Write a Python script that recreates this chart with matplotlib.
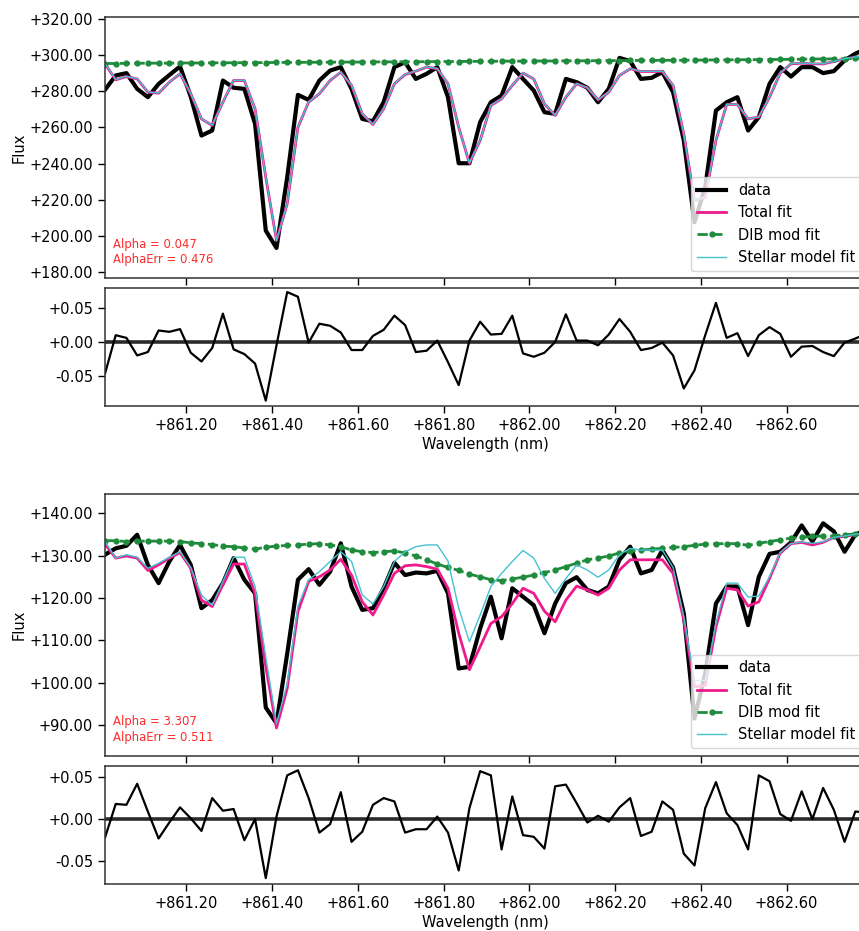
import matplotlib
matplotlib.use("Agg")
import matplotlib.pyplot as plt
from matplotlib.ticker import FormatStrFormatter, MultipleLocator

# Wavelength grid (nm)
wavelength = [
    861.010, 861.035, 861.060, 861.085, 861.110, 861.135, 861.160, 861.185, 861.210, 861.235,
    861.260, 861.285, 861.310, 861.335, 861.360, 861.385, 861.410, 861.435, 861.460, 861.485,
    861.510, 861.535, 861.560, 861.585, 861.610, 861.635, 861.660, 861.685, 861.710, 861.735,
    861.760, 861.785, 861.810, 861.835, 861.860, 861.885, 861.910, 861.935, 861.960, 861.985,
    862.010, 862.035, 862.060, 862.085, 862.110, 862.135, 862.160, 862.185, 862.210, 862.235,
    862.260, 862.285, 862.310, 862.335, 862.360, 862.385, 862.410, 862.435, 862.460, 862.485,
    862.510, 862.535, 862.560, 862.585, 862.610, 862.635, 862.660, 862.685, 862.710, 862.735,
    862.760, 862.785,
]

# ---- Star 1 ----
data1 = [
    280.8, 288.7, 290.0, 281.3, 276.7, 284.0, 288.9, 293.7, 277.0, 255.5,
    258.3, 285.9, 281.9, 281.3, 262.0, 203.0, 193.4, 232.5, 278.0, 275.2,
    285.9, 291.4, 293.3, 281.3, 264.7, 263.4, 274.0, 293.3, 296.0, 286.8,
    289.6, 293.3, 276.7, 240.2, 240.2, 262.9, 273.9, 277.6, 293.3, 286.8,
    280.4, 268.4, 267.5, 286.8, 285.0, 281.9, 273.9, 281.3, 298.4, 296.6,
    286.8, 287.4, 290.5, 279.5, 252.8, 207.6, 227.0, 269.3, 273.9, 276.7,
    258.3, 265.7, 284.1, 293.3, 288.1, 293.3, 293.3, 290.0, 291.1, 297.0,
    300.7, 303.4,
]
total1 = [
    295.1, 286.3, 288.1, 286.8, 279.5, 278.9, 285.0, 289.6, 278.6, 264.7,
    261.1, 274.0, 285.9, 285.9, 270.3, 232.5, 197.5, 217.8, 260.1, 274.0,
    278.6, 285.9, 290.5, 283.2, 267.5, 261.6, 270.3, 284.1, 289.2, 291.1,
    293.3, 292.4, 284.1, 260.1, 240.2, 252.8, 272.1, 275.8, 283.2, 290.0,
    286.8, 273.0, 266.6, 276.7, 284.1, 281.9, 275.2, 279.5, 288.7, 292.4,
    290.9, 290.9, 290.9, 283.2, 256.4, 219.6, 221.4, 252.8, 272.7, 272.7,
    264.7, 265.7, 276.7, 290.0, 295.1, 295.5, 295.1, 295.1, 296.4, 297.9,
    298.8, 299.2,
]
dib1 = [
    295.3, 295.3, 295.4, 295.4, 295.5, 295.5, 295.5, 295.6, 295.6, 295.6,
    295.7, 295.7, 295.7, 295.8, 295.8, 295.8, 295.9, 295.9, 295.9, 296.0,
    296.0, 296.0, 296.1, 296.1, 296.1, 296.2, 296.2, 296.2, 296.3, 296.3,
    296.3, 296.4, 296.4, 296.4, 296.5, 296.5, 296.5, 296.6, 296.6, 296.6,
    296.7, 296.7, 296.7, 296.8, 296.8, 296.8, 296.9, 296.9, 296.9, 297.0,
    297.0, 297.0, 297.1, 297.1, 297.1, 297.2, 297.2, 297.3, 297.3, 297.4,
    297.4, 297.5, 297.5, 297.6, 297.6, 297.7, 297.8, 297.8, 297.9, 298.0,
    298.1, 298.2,
]
stellar1 = [
    295.2, 286.4, 288.2, 286.9, 279.6, 279.0, 285.1, 289.7, 278.7, 264.8,
    261.2, 274.1, 286.0, 286.0, 270.4, 232.6, 197.6, 217.9, 260.2, 274.1,
    278.7, 286.0, 290.6, 283.3, 267.6, 261.7, 270.4, 284.2, 289.3, 291.2,
    293.4, 292.5, 284.2, 260.2, 240.3, 252.9, 272.2, 275.9, 283.3, 290.1,
    286.9, 273.1, 266.7, 276.8, 284.2, 282.0, 275.3, 279.6, 288.8, 292.5,
    291.0, 291.0, 291.0, 283.3, 256.5, 219.7, 221.5, 252.9, 272.8, 272.8,
    264.8, 265.8, 276.8, 290.1, 295.2, 295.6, 295.2, 295.2, 296.5, 298.0,
    298.9, 299.3,
]
resid1 = [
    -0.047, 0.010, 0.006, -0.020, -0.015, 0.017, 0.015, 0.019, -0.016, -0.029,
    -0.009, 0.042, -0.011, -0.018, -0.032, -0.087, -0.005, 0.074, 0.067, -0.001,
    0.027, 0.024, 0.014, -0.012, -0.012, 0.009, 0.018, 0.039, 0.025, -0.015,
    -0.013, 0.002, -0.030, -0.064, 0.002, 0.030, 0.011, 0.012, 0.039, -0.017,
    -0.022, -0.016, 0.000, 0.041, 0.002, 0.002, -0.005, 0.011, 0.034, 0.015,
    -0.012, -0.009, -0.001, -0.020, -0.069, -0.042, 0.010, 0.058, 0.006, 0.013,
    -0.021, 0.010, 0.022, 0.012, -0.022, -0.007, -0.006, -0.015, -0.021, -0.001,
    0.005, 0.012,
]
alpha1, alpha_err1 = 0.047, 0.476

# ---- Star 2 ----
data2 = [
    130.2, 131.7, 132.3, 134.9, 127.8, 123.5, 128.6, 132.5, 127.8, 117.6,
    119.5, 123.5, 129.4, 124.3, 121.1, 94.2, 90.5, 106.9, 124.3, 126.8,
    123.1, 126.2, 132.9, 122.7, 117.2, 117.6, 122.3, 128.3, 125.4, 126.0,
    125.8, 126.4, 121.1, 103.4, 103.8, 112.8, 120.3, 110.5, 122.3, 120.3,
    118.3, 111.7, 118.7, 123.5, 124.9, 121.9, 121.1, 122.7, 129.0, 132.1,
    125.8, 126.6, 131.3, 127.2, 116.4, 91.6, 102.2, 118.7, 122.7, 122.7,
    113.6, 125.0, 130.4, 130.9, 133.1, 137.1, 133.3, 137.6, 135.7, 130.9,
    134.9, 136.1,
]
total2 = [
    132.7, 129.4, 129.9, 129.4, 126.5, 127.8, 129.4, 130.7, 127.0, 119.5,
    118.0, 123.1, 128.0, 128.0, 121.1, 103.8, 89.4, 98.7, 116.8, 123.9,
    125.0, 126.6, 129.1, 125.4, 119.1, 116.0, 120.7, 125.8, 127.6, 127.8,
    127.4, 126.8, 122.3, 111.7, 103.1, 108.5, 114.0, 115.6, 118.7, 122.3,
    121.1, 116.9, 114.4, 119.5, 122.8, 121.9, 120.7, 122.3, 126.6, 129.0,
    129.0, 129.0, 129.0, 125.8, 114.8, 99.1, 99.4, 113.2, 122.3, 121.9,
    118.1, 119.1, 124.6, 130.6, 132.8, 133.1, 132.5, 133.1, 134.3, 134.5,
    134.9, 135.3,
]
dib2 = [
    133.5, 133.5, 133.3, 133.4, 133.4, 133.4, 133.4, 133.3, 133.0, 132.8,
    132.6, 132.2, 132.1, 131.8, 131.5, 132.0, 132.2, 132.4, 132.5, 132.7,
    132.8, 132.5, 132.1, 131.3, 130.9, 130.7, 130.9, 131.1, 130.6, 129.9,
    129.0, 128.0, 127.2, 126.5, 125.6, 125.0, 124.3, 124.1, 124.5, 124.9,
    125.4, 126.0, 126.6, 127.4, 128.2, 129.0, 129.4, 129.9, 130.6, 131.1,
    131.3, 131.5, 131.7, 131.9, 132.1, 132.4, 132.7, 132.8, 132.8, 132.8,
    132.4, 132.9, 133.3, 133.7, 134.1, 134.3, 134.5, 134.6, 134.6, 134.9,
    135.1, 135.3,
]
stellar2 = [
    133.3, 129.4, 130.2, 129.6, 127.0, 128.2, 129.6, 130.9, 127.2, 120.7,
    118.3, 123.9, 129.6, 129.6, 122.7, 106.1, 90.4, 99.8, 118.0, 124.3,
    126.2, 128.6, 130.9, 128.6, 120.7, 118.6, 122.7, 128.6, 130.9, 132.1,
    132.5, 132.5, 128.7, 117.6, 109.7, 116.0, 122.7, 125.8, 128.6, 131.2,
    129.4, 124.6, 121.1, 124.6, 127.8, 126.6, 124.9, 126.6, 130.2, 131.7,
    131.3, 131.3, 131.3, 127.2, 115.6, 100.6, 100.6, 114.0, 123.5, 123.5,
    120.2, 120.5, 125.0, 130.7, 132.8, 133.2, 132.9, 133.2, 134.3, 134.6,
    135.0, 135.3,
]
resid2 = [
    -0.022, 0.018, 0.017, 0.042, 0.009, -0.023, -0.004, 0.014, 0.001, -0.014,
    0.025, 0.010, 0.012, -0.025, 0.000, -0.070, 0.003, 0.052, 0.058, 0.025,
    -0.016, -0.006, 0.032, -0.027, -0.015, 0.017, 0.025, 0.021, -0.016, -0.012,
    -0.012, 0.003, -0.016, -0.061, 0.013, 0.057, 0.052, -0.036, 0.027, -0.019,
    -0.021, -0.035, 0.039, 0.041, 0.019, -0.004, 0.004, -0.003, 0.014, 0.025,
    -0.020, -0.015, 0.021, 0.011, -0.041, -0.055, 0.013, 0.044, 0.007, -0.007,
    -0.036, 0.052, 0.045, 0.006, -0.002, 0.033, 0.000, 0.037, 0.011, -0.027,
    0.009, 0.008,
]
alpha2, alpha_err2 = 3.307, 0.511

xticks = [861.2, 861.4, 861.6, 861.8, 862.0, 862.2, 862.4, 862.6]

C_DATA = "black"
C_TOTAL = "#ef1a8c"
C_DIB = "#1e8c3c"
C_STELLAR = "#45c2d0"
C_ALPHA = "#ff2b2b"

FS_TICK = 10.5

W, H = 859, 931
fig = plt.figure(figsize=(W / 100, H / 100), dpi=100)


def box(left, top, right, bottom):
    return [left / W, 1 - bottom / H, (right - left) / W, (bottom - top) / H]


def style_axis(ax, yfmt):
    ax.xaxis.set_major_formatter(FormatStrFormatter("%+.2f"))
    ax.yaxis.set_major_formatter(FormatStrFormatter(yfmt))
    ax.set_xticks(xticks)
    ax.set_xlim(wavelength[0], wavelength[-1])
    ax.tick_params(labelsize=FS_TICK, length=5, width=1.0)
    for s in ax.spines.values():
        s.set_linewidth(1.1)
        s.set_color("#333333")


def spectrum_panel(ax, data, total, dib, stellar, ylim, ystep, alpha, alpha_err):
    ax.plot(wavelength, data, color=C_DATA, lw=3.0, label="data")
    ax.plot(wavelength, total, color=C_TOTAL, lw=2.0, label="Total fit")
    ax.plot(wavelength, dib, color=C_DIB, lw=2.0, ls="--", marker="o",
            markersize=3.5, label="DIB mod fit")
    ax.plot(wavelength, stellar, color=C_STELLAR, lw=1.0, label="Stellar model fit")
    style_axis(ax, "%+.2f")
    ax.set_ylim(*ylim)
    ax.yaxis.set_major_locator(MultipleLocator(ystep))
    ax.tick_params(labelbottom=False)
    ax.set_ylabel("Flux", fontsize=10.5)
    ax.yaxis.set_label_coords(-0.103, 0.5)
    ax.legend(loc="lower right", bbox_to_anchor=(1.003, 0.0), fontsize=10.5,
              handlelength=2.0, labelspacing=0.5, borderaxespad=0.5)
    ax.text(0.0105, 0.045, f"Alpha = {alpha:.3f}\nAlphaErr = {alpha_err:.3f}",
            transform=ax.transAxes, color=C_ALPHA, fontsize=8.4,
            ha="left", va="bottom", linespacing=1.25)


def residual_panel(ax, resid, ylim):
    ax.axhline(0.0, color="#2b2b2b", lw=2.6)
    ax.plot(wavelength, resid, color="black", lw=1.6)
    style_axis(ax, "%+.2f")
    ax.set_ylim(*ylim)
    ax.set_yticks([-0.05, 0.0, 0.05])
    ax.set_xlabel("Wavelength (nm)", fontsize=10.5, labelpad=3)


ax1 = fig.add_axes(box(105, 17, 866, 278))
ax1r = fig.add_axes(box(105, 288, 866, 406))
ax2 = fig.add_axes(box(105, 494, 866, 755.5))
ax2r = fig.add_axes(box(105, 766, 866, 884.3))

spectrum_panel(ax1, data1, total1, dib1, stellar1, (176.8, 321.0), 20, alpha1, alpha_err1)
residual_panel(ax1r, resid1, (-0.095, 0.080))
spectrum_panel(ax2, data2, total2, dib2, stellar2, (82.9, 144.5), 10, alpha2, alpha_err2)
residual_panel(ax2r, resid2, (-0.0774, 0.0631))

fig.savefig("out.png", dpi=100)
